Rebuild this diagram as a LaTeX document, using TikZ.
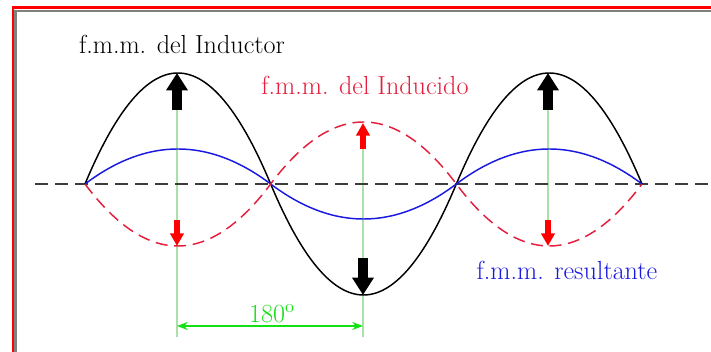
\documentclass[tikz,border=0pt]{standalone}
\usepackage{fontspec}
\usetikzlibrary{arrows.meta}
\definecolor{crim}{RGB}{228,30,60}
\definecolor{bluet}{RGB}{25,25,225}
\definecolor{lgreen}{RGB}{170,225,170}
\definecolor{dgreen}{RGB}{20,225,20}
\definecolor{axisgray}{RGB}{60,60,60}
\tikzset{
  lbl/.style={inner sep=0pt, font=\fontsize{19.6}{23}\selectfont},
  bigarrow/.style={line width=7.5pt, -{Triangle[width=15.5pt,length=13pt]}},
  redarrow/.style={red, line width=4.5pt, -{Triangle[width=10pt,length=9.5pt]}},
  guide/.style={lgreen, line width=1.1pt},
  dimline/.style={dgreen, line width=1.3pt, {Stealth[length=8pt,width=6pt]}-{Stealth[length=8pt,width=6pt]}},
  wave/.style={line width=1.1pt, domain=85:642, samples=181},
}
% parabolic lobe profile: +1 at first lobe peak, -1 at second, +1 at third
\def\lobe{cos(180*floor((\x-85)/185.6667))*4*((\x-85)/185.6667-floor((\x-85)/185.6667))*(1-((\x-85)/185.6667-floor((\x-85)/185.6667)))}
\begin{document}
\begin{tikzpicture}[x=0.75pt,y=-0.75pt]
\useasboundingbox (0,0) rectangle (711,352);
\fill[white] (0,0) rectangle (711,352);
% frame
\draw[red, line width=2pt] (13,352) -- (13,7.5) -- (711,7.5);
\draw[gray, line width=1.6pt] (15.5,352) -- (15.5,11) -- (711,11);
% peak coordinates
\coordinate (p1) at (177,73);
\coordinate (p1b) at (177,110);
\coordinate (p2) at (363,295);
\coordinate (p2b) at (363,258);
\coordinate (p3) at (548,73);
\coordinate (p3b) at (548,110);
\coordinate (r1) at (177,246);
\coordinate (r1b) at (177,220);
\coordinate (r2) at (363,123);
\coordinate (r2b) at (363,149);
\coordinate (r3) at (548,246);
\coordinate (r3b) at (548,220);
\coordinate (g1) at (177,337);
\coordinate (g2) at (363,337);
\coordinate (d1) at (177,326);
\coordinate (d2) at (363,326);
\coordinate (a0) at (35,184);
\coordinate (a1) at (711,184);
% guide lines
\draw[guide] (p1b) -- (g1);
\draw[guide] (r2b) -- (g2);
\draw[guide] (p3b) -- (r3b);
% axis
\draw[axisgray, line width=1.6pt, dash pattern=on 10pt off 5pt] (a0) -- (a1);
% curves
\draw[black, wave] plot (\x, {184-111*\lobe});
\draw[bluet, wave] plot (\x, {184-35*\lobe});
\draw[crim, wave, dash pattern=on 9pt off 5pt] plot (\x, {184+62*\lobe});
% arrows
\draw[bigarrow] (p1b) -- (p1);
\draw[bigarrow] (p2b) -- (p2);
\draw[bigarrow] (p3b) -- (p3);
\draw[redarrow] (r1b) -- (r1);
\draw[redarrow] (r2b) -- (r2);
\draw[redarrow] (r3b) -- (r3);
% dimension
\draw[dimline] (d1) -- (d2);
\node[lbl, text=dgreen] (ang) at (272,314) {180\textsuperscript{o}};
% labels
\node[lbl] (ind) at (182,44) {f.m.m. del Inductor};
\node[lbl, text=crim] (indc) at (365,85) {f.m.m. del Inducido};
\node[lbl, text=bluet] (res) at (567,270) {f.m.m. resultante};
\end{tikzpicture}
\end{document}
